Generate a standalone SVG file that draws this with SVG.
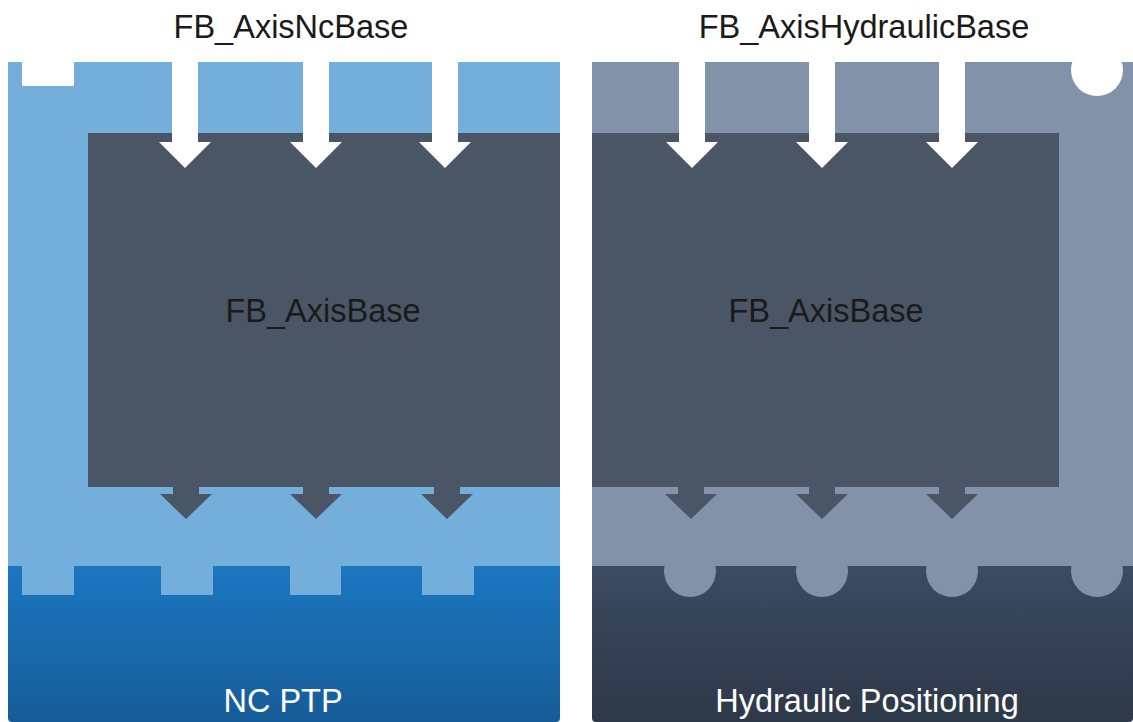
<svg xmlns="http://www.w3.org/2000/svg" width="1133" height="722" viewBox="0 0 1133 722">
  <defs>
    <linearGradient id="gBlue" x1="0" y1="0" x2="0" y2="1">
      <stop offset="0" stop-color="#1b77c0"/>
      <stop offset="1" stop-color="#165c98"/>
    </linearGradient>
    <linearGradient id="gSlate" x1="0" y1="0" x2="0" y2="1">
      <stop offset="0" stop-color="#3c4b61"/>
      <stop offset="1" stop-color="#2d3848"/>
    </linearGradient>
    <path id="inArrow" d="M-13,-8 V0 H-26 L0,26 L26,0 H13 V-8 Z"/>
    <path id="outArrow" d="M-13,0 V8 H-26 L0,33 L26,8 H13 V0 Z"/>
  </defs>
  <style>
    .t { font-family: "Liberation Sans", Arial, sans-serif; font-size: 32.5px; text-anchor: middle; }
    .dark { fill: #1a1a1a; }
    .light { fill: #ffffff; }
    .core { fill: #4a5566; }
    .inA { fill: #ffffff; }
    .outA { fill: #4a5566; }
  </style>
  <rect width="1133" height="722" fill="#ffffff"/>

  <g id="panel-nc">
    <rect x="8" y="62" width="552" height="504" fill="#74aedb"/>
    <rect x="22" y="62" width="52" height="24" fill="#ffffff"/>
    <rect class="core" x="88" y="133" width="472" height="354"/>
    <text class="t dark" x="291" y="38">FB_AxisNcBase</text>
    <text class="t dark" x="323" y="322">FB_AxisBase</text>
  </g>

  <g id="panel-hyd">
    <rect x="592" y="62" width="541" height="504" fill="#8292a8"/>
    <circle cx="1097" cy="70" r="26" fill="#ffffff"/>
    <rect class="core" x="592" y="133" width="467" height="354"/>
    <text class="t dark" x="864" y="38">FB_AxisHydraulicBase</text>
    <text class="t dark" x="826" y="322">FB_AxisBase</text>
  </g>

  <g id="block-ncptp">
    <rect x="8" y="566" width="552" height="156" rx="4" fill="url(#gBlue)"/>
    <rect x="8" y="566" width="552" height="8" fill="#1b77c0"/>
    <g fill="#74aedb">
      <rect x="22" y="566" width="52" height="29"/>
      <rect x="161" y="566" width="52" height="29"/>
      <rect x="290" y="566" width="51" height="29"/>
      <rect x="422" y="566" width="52" height="29"/>
    </g>
    <text class="t light" x="283" y="712">NC PTP</text>
  </g>

  <g id="block-hydpos">
    <rect x="592" y="566" width="541" height="156" rx="4" fill="url(#gSlate)"/>
    <rect x="592" y="566" width="541" height="8" fill="#3c4b61"/>
    <g fill="#8292a8">
      <circle cx="690" cy="571" r="26"/>
      <circle cx="822" cy="571" r="26"/>
      <circle cx="952" cy="571" r="26"/>
      <circle cx="1097" cy="571" r="26"/>
    </g>
    <text class="t light" x="867" y="712">Hydraulic Positioning</text>
  </g>

  <g id="connectors">
    <g class="inA">
      <rect x="172" y="50" width="26" height="94"/>
      <use href="#inArrow" x="185" y="142"/>
      <rect x="303" y="50" width="26" height="94"/>
      <use href="#inArrow" x="316" y="142"/>
      <rect x="432" y="50" width="26" height="94"/>
      <use href="#inArrow" x="445" y="142"/>
      <rect x="679" y="50" width="26" height="94"/>
      <use href="#inArrow" x="692" y="142"/>
      <rect x="809" y="50" width="26" height="94"/>
      <use href="#inArrow" x="822" y="142"/>
      <rect x="939" y="50" width="26" height="94"/>
      <use href="#inArrow" x="952" y="142"/>
    </g>
    <g class="outA">
      <use href="#outArrow" x="186" y="486"/>
      <use href="#outArrow" x="316" y="486"/>
      <use href="#outArrow" x="447" y="486"/>
      <use href="#outArrow" x="691" y="486"/>
      <use href="#outArrow" x="822" y="486"/>
      <use href="#outArrow" x="952" y="486"/>
    </g>
  </g>
</svg>
